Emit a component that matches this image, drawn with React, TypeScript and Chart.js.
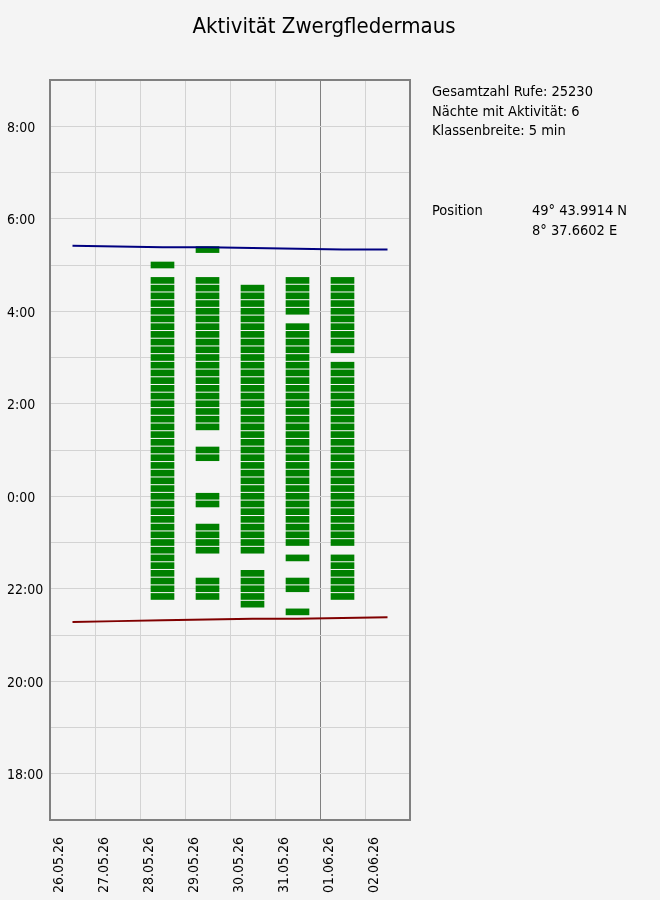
import { useEffect, useRef } from 'react';
import { Chart, registerables } from 'chart.js';

Chart.register(...registerables);

const FONT = '"DejaVu Sans Condensed", "DejaVu Sans", sans-serif';

const chartTitle = 'Aktivität Zwergfledermaus';
const infoLines = ['Gesamtzahl Rufe: 25230', 'Nächte mit Aktivität: 6', 'Klassenbreite: 5 min'];
const positionLabel = 'Position';
const positionLines = ['49° 43.9914 N', '8° 37.6602 E'];

// x-Achse: ein Tag pro Einheit
const dayLabels = ['26.05.26', '27.05.26', '28.05.26', '29.05.26', '30.05.26', '31.05.26', '01.06.26', '02.06.26'];

// Sonnenaufgang / -untergang je Nacht
const sunrise = ['05:25', '05:24', '05:23', '05:23', '05:22', '05:21', '05:20', '05:20'];
const sunset = ['21:17', '21:18', '21:19', '21:20', '21:21', '21:21', '21:22', '21:23'];

// aktive Zeitklassen je Nacht
const night2805 = [
  '05:00', '04:40', '04:30', '04:20', '04:10', '04:00', '03:50', '03:40', '03:30', '03:20', '03:10', '03:00',
  '02:50', '02:40', '02:30', '02:20', '02:10', '02:00', '01:50', '01:40', '01:30', '01:20', '01:10', '01:00',
  '00:50', '00:40', '00:30', '00:20', '00:10', '00:00', '23:50', '23:40', '23:30', '23:20', '23:10', '23:00',
  '22:50', '22:40', '22:30', '22:20', '22:10', '22:00', '21:50',
];
const night2905 = [
  '05:20', '04:40', '04:30', '04:20', '04:10', '04:00', '03:50', '03:40', '03:30', '03:20', '03:10', '03:00',
  '02:50', '02:40', '02:30', '02:20', '02:10', '02:00', '01:50', '01:40', '01:30', '01:00', '00:50', '00:00',
  '23:50', '23:20', '23:10', '23:00', '22:50', '22:10', '22:00', '21:50',
];
const night3005 = [
  '04:30', '04:20', '04:10', '04:00', '03:50', '03:40', '03:30', '03:20', '03:10', '03:00', '02:50', '02:40',
  '02:30', '02:20', '02:10', '02:00', '01:50', '01:40', '01:30', '01:20', '01:10', '01:00', '00:50', '00:40',
  '00:30', '00:20', '00:10', '00:00', '23:50', '23:40', '23:30', '23:20', '23:10', '23:00', '22:50', '22:20',
  '22:10', '22:00', '21:50', '21:40',
];
const night3105 = [
  '04:40', '04:30', '04:20', '04:10', '04:00', '03:40', '03:30', '03:20', '03:10', '03:00', '02:50', '02:40',
  '02:30', '02:20', '02:10', '02:00', '01:50', '01:40', '01:30', '01:20', '01:10', '01:00', '00:50', '00:40',
  '00:30', '00:20', '00:10', '00:00', '23:50', '23:40', '23:30', '23:20', '23:10', '23:00', '22:40', '22:10',
  '22:00', '21:30',
];
const night0106 = [
  '04:40', '04:30', '04:20', '04:10', '04:00', '03:50', '03:40', '03:30', '03:20', '03:10', '02:50', '02:40',
  '02:30', '02:20', '02:10', '02:00', '01:50', '01:40', '01:30', '01:20', '01:10', '01:00', '00:50', '00:40',
  '00:30', '00:20', '00:10', '00:00', '23:50', '23:40', '23:30', '23:20', '23:10', '23:00', '22:40', '22:30',
  '22:20', '22:10', '22:00', '21:50',
];

const nights: [number, string[]][] = [
  [2, night2805],
  [3, night2905],
  [4, night3005],
  [5, night3105],
  [6, night0106],
];

const HALF_BAR = 3.9 / 60; // Stunden

// Stunden ab 12:00 Uhr mittags
function toHours(t: string) {
  const [h, m] = t.split(':').map(Number);
  const v = h + m / 60;
  return v < 12 ? v + 12 : v - 12;
}

const framePlugin = {
  id: 'frameAndTexts',
  afterDraw(chart: Chart) {
    const { ctx, chartArea } = chart;
    ctx.save();
    ctx.strokeStyle = '#808080';
    ctx.lineWidth = 2;
    ctx.strokeRect(chartArea.left, chartArea.top, chartArea.right - chartArea.left, chartArea.bottom - chartArea.top);

    ctx.fillStyle = '#000';
    ctx.textBaseline = 'alphabetic';
    ctx.textAlign = 'center';
    ctx.font = `22px ${FONT}`;
    ctx.fillText(chartTitle, 324, 33);

    ctx.textAlign = 'left';
    ctx.font = `14.5px ${FONT}`;
    infoLines.forEach((line, i) => ctx.fillText(line, 432, 96 + i * 19.7));
    ctx.fillText(positionLabel, 432, 215);
    positionLines.forEach((line, i) => ctx.fillText(line, 532, 215 + i * 19.5));
    ctx.restore();
  },
};

export default function App() {
  const canvasRef = useRef<HTMLCanvasElement | null>(null);

  useEffect(() => {
    if (!canvasRef.current) return;
    const ctx = canvasRef.current.getContext('2d');
    if (!ctx) return;

    const bars = nights.flatMap(([day, slots]) =>
      slots.map((t) => ({ x: day + 0.5, y: [toHours(t) - HALF_BAR, toHours(t) + HALF_BAR] }))
    );

    const chart = new Chart(ctx, {
      type: 'bar',
      data: {
        datasets: [
          {
            type: 'line',
            data: sunrise.map((t, i) => ({ x: i + 0.5, y: toHours(t) })),
            borderColor: '#000080',
            borderWidth: 2,
            pointRadius: 0,
            tension: 0,
          },
          {
            type: 'line',
            data: sunset.map((t, i) => ({ x: i + 0.5, y: toHours(t) })),
            borderColor: '#800000',
            borderWidth: 2,
            pointRadius: 0,
            tension: 0,
          },
          {
            type: 'bar',
            data: bars as any,
            backgroundColor: '#008000',
            borderWidth: 0,
            barThickness: 23,
            grouped: false,
          },
        ],
      },
      options: {
        responsive: false,
        animation: false,
        layout: { padding: { left: 7, top: 80, right: 250, bottom: 0 } },
        plugins: {
          legend: { display: false },
          tooltip: { enabled: false },
        },
        scales: {
          x: {
            type: 'linear',
            min: 0,
            max: 8,
            offset: false,
            afterFit: (scale) => {
              scale.height = 80;
            },
            border: { display: false },
            grid: {
              offset: false,
              drawTicks: false,
              color: (c) => (c.tick && c.tick.value === 6 ? '#808080' : '#d3d3d3'),
            },
            ticks: {
              stepSize: 1,
              autoSkip: false,
              minRotation: 90,
              maxRotation: 90,
              labelOffset: 9.5,
              padding: 17,
              color: '#000',
              font: { family: FONT, size: 14 },
              callback: (v) => dayLabels[Number(v)] ?? '',
            },
          },
          y: {
            type: 'linear',
            min: 5,
            max: 21,
            afterFit: (scale) => {
              scale.width = 43;
            },
            border: { display: false },
            grid: { drawTicks: false, color: '#d3d3d3' },
            ticks: {
              stepSize: 1,
              autoSkip: false,
              crossAlign: 'far',
              labelOffset: 2,
              color: '#000',
              font: { family: FONT, size: 14 },
              callback: (v) => {
                const h = (Number(v) + 12) % 24;
                return h % 2 === 0 ? `${h}:00` : '';
              },
            },
          },
        },
      },
      plugins: [framePlugin],
    });

    return () => {
      chart.destroy();
    };
  }, []);

  return (
    <div style={{ position: 'fixed', left: 0, top: 0, width: 660, height: 900, background: '#f4f4f4' }}>
      <canvas ref={canvasRef} width={660} height={900}></canvas>
    </div>
  );
}
